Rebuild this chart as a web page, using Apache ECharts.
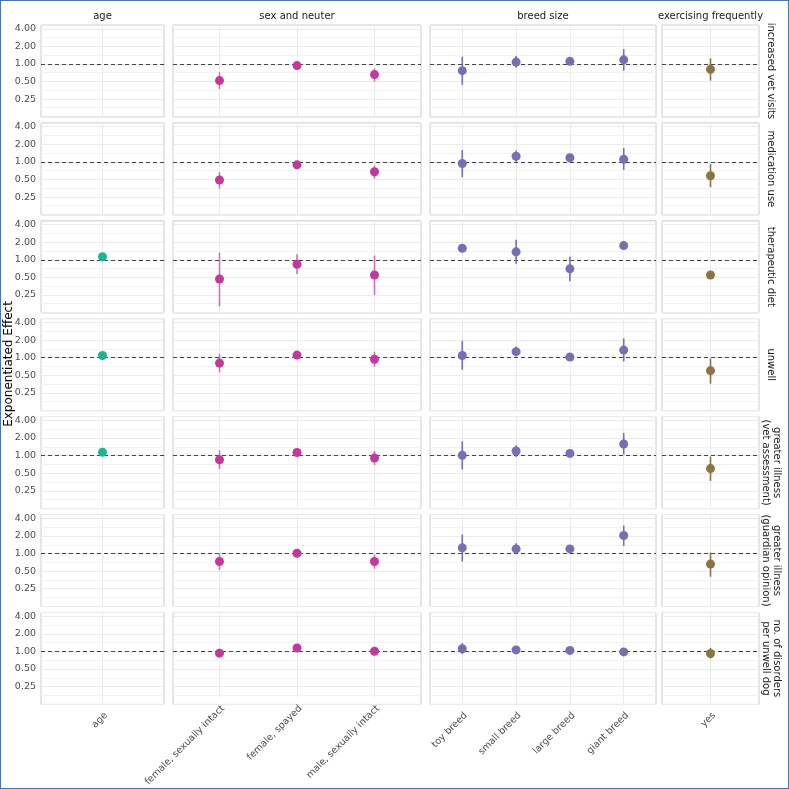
<!DOCTYPE html>
<html><head><meta charset="utf-8">
<script src="https://cdn.jsdelivr.net/npm/echarts@6/dist/echarts.min.js"></script>
<style>html,body{margin:0;padding:0;background:#fff}#c{width:789px;height:789px}#f{position:absolute;left:0;top:0;width:789px;height:789px;box-sizing:border-box;border:1px solid #4a72b8;pointer-events:none}</style>
</head><body><div id="c"></div><div id="f"></div>
<script>
// ---- data ----
const rowLabels = ['increased vet visits', 'medication use', 'therapeutic diet', 'unwell',
  'greater illness\n(vet assessment)', 'greater illness\n(guardian opinion)', 'no. of disorders\nper unwell dog'];
const groupLabels = ['age', 'sex and neuter', 'breed size', 'exercising frequently'];
const ageCats = ['age'];
const sexCats = ['female, sexually intact', 'female, spayed', 'male, sexually intact'];
const breedCats = ['toy breed', 'small breed', 'large breed', 'giant breed'];
const exerciseCats = ['yes'];
const yTicks = [0.25, 0.5, 1, 2, 4];
const minorBreaks = [0.177, 0.354, 0.707, 1.414, 2.828];

const ageEst = [[null], [null], [1.13], [1.09], [1.14], [null], [null]];
const ageLo  = [[null], [null], [1.11], [1.07], [1.12], [null], [null]];
const ageHi  = [[null], [null], [1.15], [1.11], [1.16], [null], [null]];

const sexEst = [[0.52, 0.94, 0.66], [0.49, 0.89, 0.68], [0.47, 0.84, 0.55], [0.81, 1.11, 0.94],
  [0.85, 1.13, 0.91], [0.73, 1.01, 0.73], [0.82, 1.02, 0.89]];
const sexLo = [[0.37, 0.88, 0.50], [0.35, 0.83, 0.52], [0.16, 0.57, 0.25], [0.56, 1.05, 0.70],
  [0.59, 1.07, 0.69], [0.52, 0.96, 0.55], [0.78, 0.99, 0.85]];
const sexHi = [[0.72, 1.01, 0.84], [0.67, 0.96, 0.86], [1.33, 1.24, 1.18], [1.17, 1.18, 1.27],
  [1.23, 1.19, 1.20], [1.00, 1.06, 0.96], [0.86, 1.05, 0.93]];

const breedEst = [[0.77, 1.08, 1.11, 1.18], [0.94, 1.25, 1.18, 1.11], [1.58, 1.37, 0.70, 1.75],
  [1.09, 1.27, 1.03, 1.35], [1.01, 1.20, 1.09, 1.58], [1.25, 1.20, 1.20, 2.03], [1.11, 1.06, 1.04, 0.98]];
const breedLo = [[0.44, 0.86, 1.04, 0.77], [0.55, 1.01, 1.10, 0.73], [1.45, 0.86, 0.43, 1.62],
  [0.62, 1.05, 0.98, 0.86], [0.58, 0.95, 1.03, 1.04], [0.73, 0.97, 1.13, 1.35], [0.90, 1.01, 1.00, 0.94]];
const breedHi = [[1.33, 1.37, 1.18, 1.80], [1.60, 1.56, 1.26, 1.72], [1.70, 2.20, 1.13, 1.88],
  [1.95, 1.56, 1.09, 2.14], [1.76, 1.50, 1.15, 2.44], [2.11, 1.50, 1.27, 3.00], [1.39, 1.11, 1.08, 1.02]];

const exerciseEst = [[0.81], [0.58], [0.55], [0.60], [0.60], [0.66], [0.92]];
const exerciseLo  = [[0.52], [0.37], [0.50], [0.36], [0.37], [0.40], [0.76]];
const exerciseHi  = [[1.25], [0.92], [0.60], [0.97], [0.96], [1.04], [1.15]];

// ---- layout & style ----
const groups = [
  {cats: ageCats, est: ageEst, lo: ageLo, hi: ageHi, color: '#1fb394', barOpacity: 1},
  {cats: sexCats, est: sexEst, lo: sexLo, hi: sexHi, color: '#c2399b', barOpacity: 0.7},
  {cats: breedCats, est: breedEst, lo: breedLo, hi: breedHi, color: '#7570b3', barOpacity: 1},
  {cats: exerciseCats, est: exerciseEst, lo: exerciseLo, hi: exerciseHi, color: '#8b7443', barOpacity: 1}
];
const colLeft = [41, 173, 430, 662], colRight = [164, 421, 656, 759];
const rowTop0 = 25, rowPitch = 97.9, rowH = 92;
const yMin = 0.124, yMax = 4.65;
const FONT = 'DejaVu Sans';

const grid = [], xAxis = [], yAxis = [], series = [], graphic = [];
const isTick = v => yTicks.some(t => Math.abs(t - v) < 1e-6);

for (let r = 0; r < rowLabels.length; r++) {
  const top = rowTop0 + r * rowPitch;
  for (let c = 0; c < groups.length; c++) {
    const g = groups[c];
    const n = g.cats.length;
    const W = colRight[c] - colLeft[c];
    const inset = 0.1 * W / (n + 0.2);
    const bi = grid.length;
    // background grid
    grid.push({left: colLeft[c], top: top, width: W, height: rowH, show: true,
      borderColor: '#cccccc', borderWidth: 1, backgroundColor: 'transparent', containLabel: false});
    xAxis.push({gridIndex: bi, type: 'value', min: 0, max: 1, show: false});
    yAxis.push({gridIndex: bi, type: 'log', logBase: 2, min: yMin, max: yMax, splitNumber: 5,
      axisLine: {show: false}, axisTick: {show: false},
      axisLabel: {show: c === 0, color: '#4d4d4d', fontSize: 9.5, fontFamily: FONT, margin: 5,
        showMinLabel: false, showMaxLabel: false,
        formatter: v => isTick(v) ? v.toFixed(2) : ''},
      splitLine: {show: true, lineStyle: {color: '#ebebeb', width: 1}}});
    series.push({type: 'line', xAxisIndex: bi, yAxisIndex: bi, data: [[0.5, 1]], symbol: 'none',
      silent: true, z: 1,
      markLine: {silent: true, symbol: 'none', label: {show: false}, animation: false, z: 1,
        data: minorBreaks.map(v => ({yAxis: v, lineStyle: {color: '#f2f2f2', width: 1, type: 'solid'}}))
          .concat([{yAxis: 1, lineStyle: {color: '#444444', width: 1, type: [4, 3]}}])}});
    // data grid
    const di = grid.length;
    grid.push({left: colLeft[c] + inset, top: top, width: W - 2 * inset, height: rowH, show: false});
    xAxis.push({gridIndex: di, type: 'category', data: g.cats, boundaryGap: true,
      axisLine: {show: false}, axisTick: {show: false},
      axisLabel: {show: r === rowLabels.length - 1, rotate: 45, interval: 0, color: '#4d4d4d',
        fontSize: 9.5, fontFamily: FONT, margin: 6, verticalAlign: 'top'},
      splitLine: {show: true, alignWithLabel: true, interval: 0, lineStyle: {color: '#ebebeb', width: 1}}});
    yAxis.push({gridIndex: di, type: 'log', logBase: 2, min: yMin, max: yMax, show: false});
    const bars = [], pts = [];
    for (let i = 0; i < n; i++) {
      const e = g.est[r][i];
      if (e == null) continue;
      pts.push([i, e]);
      bars.push([i, g.lo[r][i], g.hi[r][i]]);
    }
    const col = g.color, op = g.barOpacity;
    series.push({type: 'custom', xAxisIndex: di, yAxisIndex: di, data: bars, z: 6, silent: true,
      encode: {x: 0, y: [1, 2]},
      renderItem: (params, api) => {
        const p1 = api.coord([api.value(0), api.value(1)]);
        const p2 = api.coord([api.value(0), api.value(2)]);
        return {type: 'line', shape: {x1: p1[0], y1: p1[1], x2: p2[0], y2: p2[1]},
          style: {stroke: col, lineWidth: 1.6, opacity: op}};
      }});
    series.push({type: 'scatter', xAxisIndex: di, yAxisIndex: di, data: pts, z: 7,
      symbol: 'circle', symbolSize: 9, itemStyle: {color: col, opacity: 1}, silent: true});
  }
  graphic.push({type: 'text', x: 771, y: top + rowH / 2, rotation: -Math.PI / 2,
    style: {text: rowLabels[r], fill: '#1a1a1a', font: '10px "' + FONT + '"', lineHeight: 11,
      align: 'center', verticalAlign: 'middle', textAlign: 'center', textVerticalAlign: 'middle'}});
}
for (let c = 0; c < groups.length; c++) {
  graphic.push({type: 'text', x: (colLeft[c] + colRight[c]) / 2, y: 16,
    style: {text: groupLabels[c], fill: '#1a1a1a', font: '10px "' + FONT + '"',
      align: 'center', verticalAlign: 'middle', textAlign: 'center', textVerticalAlign: 'middle'}});
}
graphic.push({type: 'text', x: 9, y: 364, rotation: Math.PI / 2,
  style: {text: 'Exponentiated Effect', fill: '#000000', font: '12px "' + FONT + '"',
    align: 'center', verticalAlign: 'middle', textAlign: 'center', textVerticalAlign: 'middle'}});

const chart = echarts.init(document.getElementById('c'), null, {renderer: 'canvas'});
chart.setOption({animation: false, backgroundColor: '#ffffff', grid, xAxis, yAxis, series, graphic});
</script></body></html>
